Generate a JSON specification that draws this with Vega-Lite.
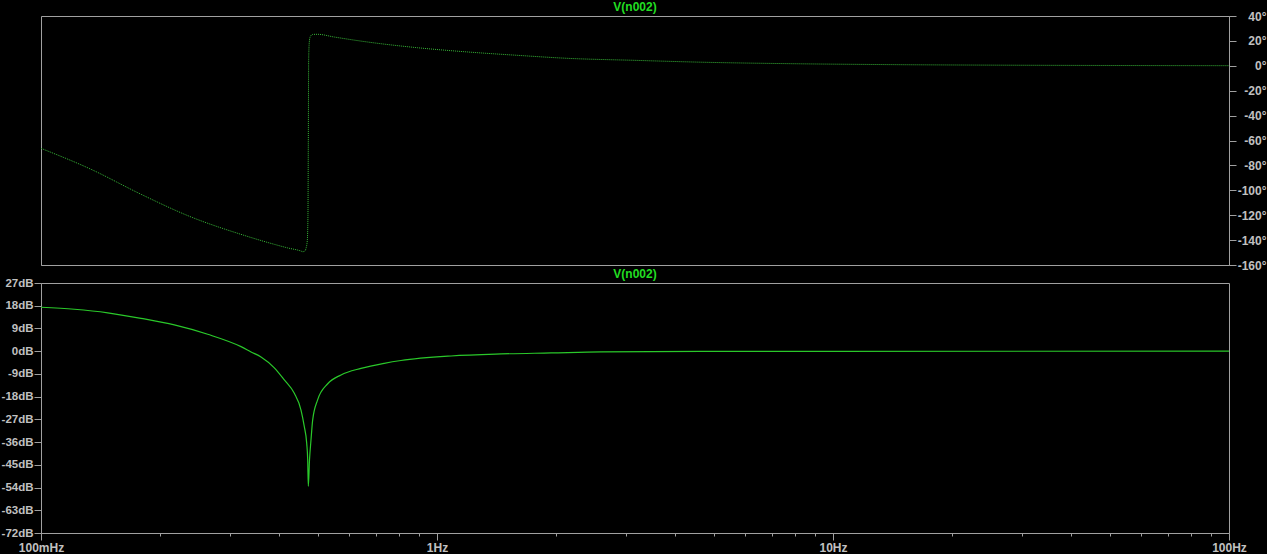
{
  "$schema": "https://vega.github.io/schema/vega-lite/v6.json",
  "background": "black",
  "padding": {"left": 0, "top": 0, "right": 0, "bottom": 0},
  "bounds": "flush",
  "spacing": 18,
  "config": {
    "view": {"stroke": "#a0a0a0", "strokeWidth": 1},
    "axis": {
      "domainColor": "#a0a0a0",
      "tickColor": "#a0a0a0",
      "labelColor": "#c0c0c0",
      "labelFont": "Liberation Sans",
      "labelFontWeight": "bold",
      "labelFontSize": 12,
      "grid": false,
      "title": null,
      "tickSize": 7
    },
    "title": {"color": "#22dd22", "font": "Liberation Sans", "fontWeight": "bold", "fontSize": 12, "offset": -4, "anchor": "middle"}
  },
  "datasets": {
    "phase": [
      {"f": 0.1, "deg": -66.3},
      {"f": 0.1337, "deg": -83.1},
      {"f": 0.1789, "deg": -103.2},
      {"f": 0.2392, "deg": -121.4},
      {"f": 0.32, "deg": -135.4},
      {"f": 0.3883, "deg": -143.4},
      {"f": 0.42, "deg": -146.3},
      {"f": 0.4535, "deg": -148.8},
      {"f": 0.458, "deg": -149.3},
      {"f": 0.463, "deg": -149},
      {"f": 0.467, "deg": -146.5},
      {"f": 0.4705, "deg": -140},
      {"f": 0.4722, "deg": -120},
      {"f": 0.4732, "deg": -60},
      {"f": 0.4742, "deg": 5},
      {"f": 0.4759, "deg": 19},
      {"f": 0.4787, "deg": 23.5},
      {"f": 0.4853, "deg": 25.2},
      {"f": 0.4995, "deg": 25.3},
      {"f": 0.5505, "deg": 23.1},
      {"f": 0.6683, "deg": 19.1},
      {"f": 0.8939, "deg": 14.5},
      {"f": 1.196, "deg": 11.1},
      {"f": 1.599, "deg": 8.4},
      {"f": 2.138, "deg": 6.0},
      {"f": 3.15, "deg": 4.4},
      {"f": 4.642, "deg": 2.9},
      {"f": 8.3, "deg": 1.6},
      {"f": 14.85, "deg": 0.9},
      {"f": 26.56, "deg": 0.5},
      {"f": 50, "deg": 0.25},
      {"f": 100, "deg": 0.1}
    ],
    "mag": [
      {"f": 0.1, "db": 17.4},
      {"f": 0.1214, "db": 16.6},
      {"f": 0.1474, "db": 15.2},
      {"f": 0.1789, "db": 13.0},
      {"f": 0.2171, "db": 10.4},
      {"f": 0.2636, "db": 6.7},
      {"f": 0.32, "db": 1.8},
      {"f": 0.3392, "db": -0.3},
      {"f": 0.3594, "db": -2.3},
      {"f": 0.3883, "db": -6.6},
      {"f": 0.4116, "db": -11.4},
      {"f": 0.4362, "db": -16.7},
      {"f": 0.4535, "db": -23.3},
      {"f": 0.4623, "db": -29.9},
      {"f": 0.4688, "db": -36.5},
      {"f": 0.4715, "db": -43},
      {"f": 0.4732, "db": -53.5},
      {"f": 0.4765, "db": -43},
      {"f": 0.4806, "db": -35.2},
      {"f": 0.4853, "db": -27.3},
      {"f": 0.4995, "db": -19.3},
      {"f": 0.5297, "db": -12.9},
      {"f": 0.5723, "db": -9.4},
      {"f": 0.6428, "db": -6.8},
      {"f": 0.7359, "db": -4.8},
      {"f": 0.811, "db": -3.7},
      {"f": 1.085, "db": -1.9},
      {"f": 1.451, "db": -1.1},
      {"f": 1.941, "db": -0.7},
      {"f": 2.595, "db": -0.3},
      {"f": 4.642, "db": -0.1},
      {"f": 10, "db": -0.05},
      {"f": 100, "db": 0}
    ]
  },
  "vconcat": [
    {
      "width": 1188,
      "height": 249,
      "title": "V(n002)",
      "data": {"name": "phase"},
      "mark": {"type": "line", "color": "#38b838", "strokeWidth": 1, "strokeDash": [1, 1], "interpolate": "monotone", "clip": true},
      "encoding": {
        "x": {
          "field": "f",
          "type": "quantitative",
          "scale": {"type": "log", "domain": [0.1, 100], "nice": false},
          "axis": {"labels": false, "ticks": false, "values": [0.1, 1, 10, 100]}
        },
        "y": {
          "field": "deg",
          "type": "quantitative",
          "scale": {"domain": [-160, 40], "nice": false},
          "axis": {
            "orient": "right",
            "values": [40, 20, 0, -20, -40, -60, -80, -100, -120, -140, -160],
            "labelExpr": "datum.value + '°'",
            "labelAlign": "right",
            "labelPadding": 30
          }
        }
      }
    },
    {
      "width": 1188,
      "height": 250,
      "title": "V(n002)",
      "data": {"name": "mag"},
      "mark": {"type": "line", "color": "#2ac82a", "strokeWidth": 1.2, "interpolate": "monotone", "clip": true},
      "encoding": {
        "x": {
          "field": "f",
          "type": "quantitative",
          "scale": {"type": "log", "domain": [0.1, 100], "nice": false},
          "axis": {
            "values": [0.1, 0.2, 0.3, 0.4, 0.5, 0.6, 0.7, 0.8, 0.9, 1, 2, 3, 4, 5, 6, 7, 8, 9, 10, 20, 30, 40, 50, 60, 70, 80, 90, 100],
            "labelExpr": "datum.value == 0.1 ? '100mHz' : datum.value == 1 ? '1Hz' : datum.value == 10 ? '10Hz' : datum.value == 100 ? '100Hz' : ''",
            "tickSize": {"condition": {"test": "indexof([0.1, 1, 10, 100], datum.value) >= 0", "value": 7}, "value": 3},
            "labelPadding": 2,
            "labelFlush": false,
            "labelOverlap": false
          }
        },
        "y": {
          "field": "db",
          "type": "quantitative",
          "scale": {"domain": [-72, 27], "nice": false},
          "axis": {
            "values": [27, 18, 9, 0, -9, -18, -27, -36, -45, -54, -63, -72],
            "labelExpr": "datum.value + 'dB'",
            "labelFontSize": 11.5,
            "labelPadding": 1
          }
        }
      }
    }
  ]
}
